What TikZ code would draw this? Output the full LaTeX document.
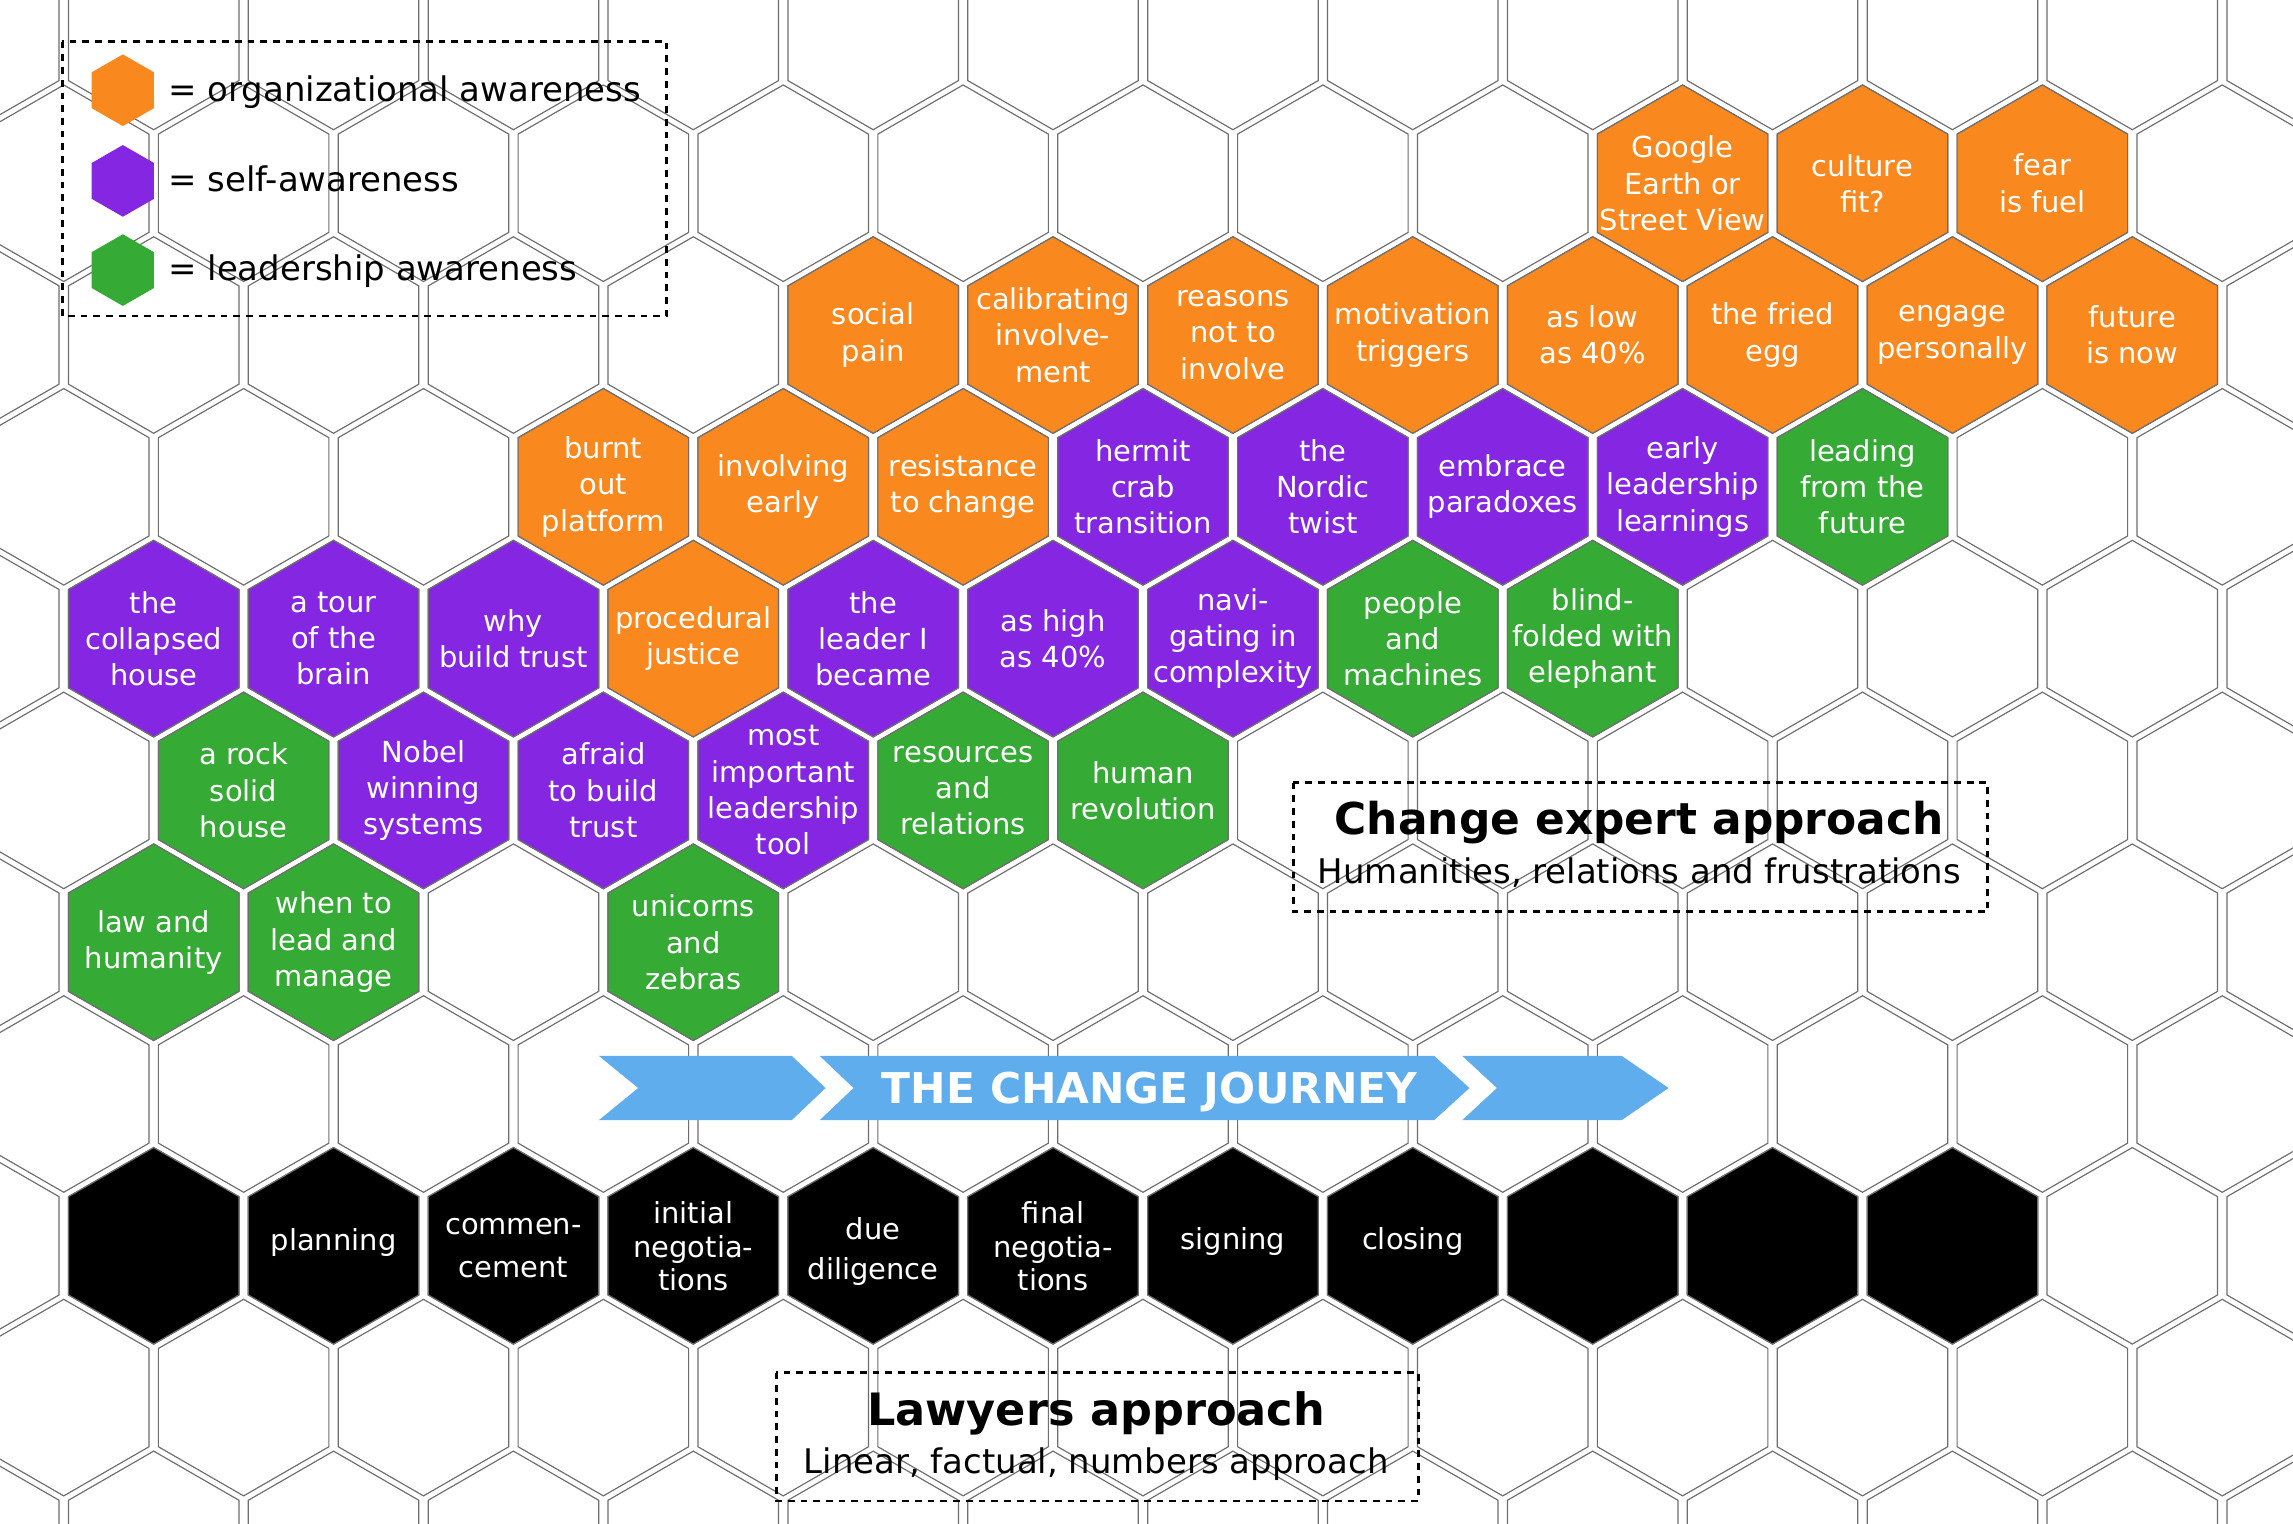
\documentclass[tikz,border=0pt]{standalone}
\usepackage{fontspec}
\setmainfont{DejaVu Sans}
\definecolor{org}{RGB}{249,136,31}
\definecolor{prp}{RGB}{132,38,226}
\definecolor{grn}{RGB}{53,171,54}
\definecolor{jblue}{RGB}{95,173,237}
\definecolor{gridc}{RGB}{110,110,110}
\tikzset{
  hexline/.style={draw=gridc, line width=0.8pt},
  hextxt/.style={text=white, align=center, inner sep=0pt, font=\fontsize{19.8}{24.8}\selectfont},
  legtxt/.style={text=black, inner sep=0pt, font=\fontsize{23.2}{27}\selectfont},
  subtxt/.style={text=black, inner sep=0pt, font=\fontsize{23.2}{27}\selectfont},
  titletxt/.style={text=black, inner sep=0pt, font=\bfseries\fontsize{30}{33}\selectfont},
  dashbox/.style={draw=black, line width=2pt, dash pattern=on 4.6pt off 4.1pt},
}
\newcommand\hexcell[3]{\filldraw[hexline, fill=#3, shift={(#1,#2)}] (0,-67.2) -- (58.3,-33.6) -- (58.3,33.6) -- (0,67.2) -- (-58.3,33.6) -- (-58.3,-33.6) -- cycle;}
\newcommand\thex[5]{\hexcell{#2}{#3}{#4}\node[hextxt] (#1) at (#2,#3) {#5};}
\newcommand\smallhex[3]{\fill[#3, shift={(#1,#2)}] (0,-24.5) -- (21.3,-12.25) -- (21.3,12.25) -- (0,24.5) -- (-21.3,12.25) -- (-21.3,-12.25) -- cycle;}
\begin{document}
\begin{tikzpicture}[x=1pt,y=-1pt]
\useasboundingbox (0,0) rectangle (1568,1041.5);
\fill[white] (0,0) rectangle (1568,1041.5);
\clip (0,0) rectangle (1568,1041.5);
% background grid
\foreach \r in {0,...,10}{
  \pgfmathsetmacro\yy{21.5+103.8*\r}
  \pgfmathsetmacro\xo{105.1+61.5*mod(\r,2)}
  \foreach \k in {-1,...,12}{
    \pgfmathsetmacro\xx{\xo+123*\k}
    \hexcell{\xx}{\yy}{white}
  }
}
% row 1
\thex{google}{1150.6}{125.3}{org}{Google\\Earth or\\Street View}
\thex{culture}{1273.6}{125.3}{org}{culture\\fit?}
\thex{fear}{1396.6}{125.3}{org}{fear\\is fuel}
% row 2
\thex{social}{597.1}{229.1}{org}{social\\pain}
\thex{calib}{720.1}{229.1}{org}{calibrating\\involve-\\ment}
\thex{reasons}{843.1}{229.1}{org}{reasons\\not to\\involve}
\thex{motiv}{966.1}{229.1}{org}{motivation\\triggers}
\thex{aslow}{1089.1}{229.1}{org}{as low\\as 40\%}
\thex{fried}{1212.1}{229.1}{org}{the fried\\egg}
\thex{engage}{1335.1}{229.1}{org}{engage\\personally}
\thex{future}{1458.1}{229.1}{org}{future\\is now}
% row 3
\thex{burnt}{412.6}{332.9}{org}{burnt\\out\\platform}
\thex{involving}{535.6}{332.9}{org}{involving\\early}
\thex{resist}{658.6}{332.9}{org}{resistance\\to change}
\thex{hermit}{781.6}{332.9}{prp}{hermit\\crab\\transition}
\thex{nordic}{904.6}{332.9}{prp}{the\\Nordic\\twist}
\thex{embrace}{1027.6}{332.9}{prp}{embrace\\paradoxes}
\thex{early}{1150.6}{332.9}{prp}{early\\leadership\\learnings}
\thex{leading}{1273.6}{332.9}{grn}{leading\\from the\\future}
% row 4
\thex{collapsed}{105.1}{436.7}{prp}{the\\collapsed\\house}
\thex{tour}{228.1}{436.7}{prp}{a tour\\of the\\brain}
\thex{why}{351.1}{436.7}{prp}{why\\build trust}
\thex{proc}{474.1}{436.7}{org}{procedural\\justice}
\thex{leader}{597.1}{436.7}{prp}{the\\leader I\\became}
\thex{ashigh}{720.1}{436.7}{prp}{as high\\as 40\%}
\thex{navi}{843.1}{436.7}{prp}{navi-\\gating in\\complexity}
\thex{people}{966.1}{436.7}{grn}{people\\and\\machines}
\thex{blind}{1089.1}{436.7}{grn}{blind-\\folded with\\elephant}
% row 5
\thex{rock}{166.6}{540.5}{grn}{a rock\\solid\\house}
\thex{nobel}{289.6}{540.5}{prp}{Nobel\\winning\\systems}
\thex{afraid}{412.6}{540.5}{prp}{afraid\\to build\\trust}
\thex{most}{535.6}{540.5}{prp}{most\\important\\leadership\\tool}
\thex{resources}{658.6}{540.5}{grn}{resources\\and\\relations}
\thex{human}{781.6}{540.5}{grn}{human\\revolution}
% row 6
\thex{law}{105.1}{644.3}{grn}{law and\\humanity}
\thex{when}{228.1}{644.3}{grn}{when to\\lead and\\manage}
\thex{unicorns}{474.1}{644.3}{grn}{unicorns\\and\\zebras}
% black row
\thex{b0}{105.1}{851.9}{black}{}
\hexcell{228.1}{851.9}{black}
\node[hextxt, anchor=base] (planning) at (228.1,855.2) {planning};
\hexcell{351.1}{851.9}{black}
\node[hextxt, font=\fontsize{19.8}{28.9}\selectfont] (commen) at (351.1,853.5) {commen-\\cement};
\hexcell{474.1}{851.9}{black}
\node[hextxt, font=\fontsize{19.8}{22.8}\selectfont] (initial) at (474.1,852.2) {initial\\negotia-\\tions};
\hexcell{597.1}{851.9}{black}
\node[hextxt, font=\fontsize{19.8}{27.4}\selectfont] (due) at (597.1,855.5) {due\\diligence};
\hexcell{720.1}{851.9}{black}
\node[hextxt, font=\fontsize{19.8}{22.8}\selectfont] (final) at (720.1,852.2) {final\\negotia-\\tions};
\hexcell{843.1}{851.9}{black}
\node[hextxt, anchor=base] (signing) at (843.1,854.5) {signing};
\hexcell{966.1}{851.9}{black}
\node[hextxt, anchor=base] (closing) at (966.1,854.5) {closing};
\thex{b8}{1089.1}{851.9}{black}{}
\thex{b9}{1212.1}{851.9}{black}{}
\thex{b10}{1335.1}{851.9}{black}{}
% journey arrow
\fill[jblue] (409.6,722.1) -- (541.5,722.1) -- (564.5,744) -- (541.5,765.9) -- (409.6,765.9) -- (436.4,744) -- cycle;
\fill[jblue] (560.6,722.1) -- (980.8,722.1) -- (1004.8,744) -- (980.8,765.9) -- (560.6,765.9) -- (583.7,744) -- cycle;
\fill[jblue] (1000,722.1) -- (1109,722.1) -- (1141,744) -- (1109,765.9) -- (1000,765.9) -- (1023.6,744) -- cycle;
\node[text=white, inner sep=0pt, font=\bfseries\fontsize{29}{31}\selectfont, anchor=base] (journey) at (786.2,754.3) {THE CHANGE JOURNEY};
% legend
\draw[dashbox] (42.7,28.5) rectangle (455.8,216.1);
\smallhex{84}{61.7}{org}
\smallhex{84}{123.7}{prp}
\smallhex{84}{184.7}{grn}
\node[legtxt, anchor=base west] (leg1) at (115,69.5) {= organizational awareness};
\node[legtxt, anchor=base west] (leg2) at (115,131.1) {= self-awareness};
\node[legtxt, anchor=base west] (leg3) at (115,191.9) {= leadership awareness};
% change expert box
\draw[dashbox] (884.3,535.2) rectangle (1359.3,623.4);
\node[titletxt, anchor=base] (cea) at (1120.9,570.5) {Change expert approach};
\node[subtxt, anchor=base] (ceasub) at (1121,604) {Humanities, relations and frustrations};
% lawyers box
\draw[dashbox] (530.8,938.6) rectangle (969.8,1026.4);
\node[titletxt, anchor=base, font=\bfseries\fontsize{30.5}{34}\selectfont] (law2) at (749.5,975.1) {Lawyers approach};
\node[subtxt, anchor=base] (lawsub) at (749.6,1007.5) {Linear, factual, numbers approach};
\end{tikzpicture}
\end{document}
